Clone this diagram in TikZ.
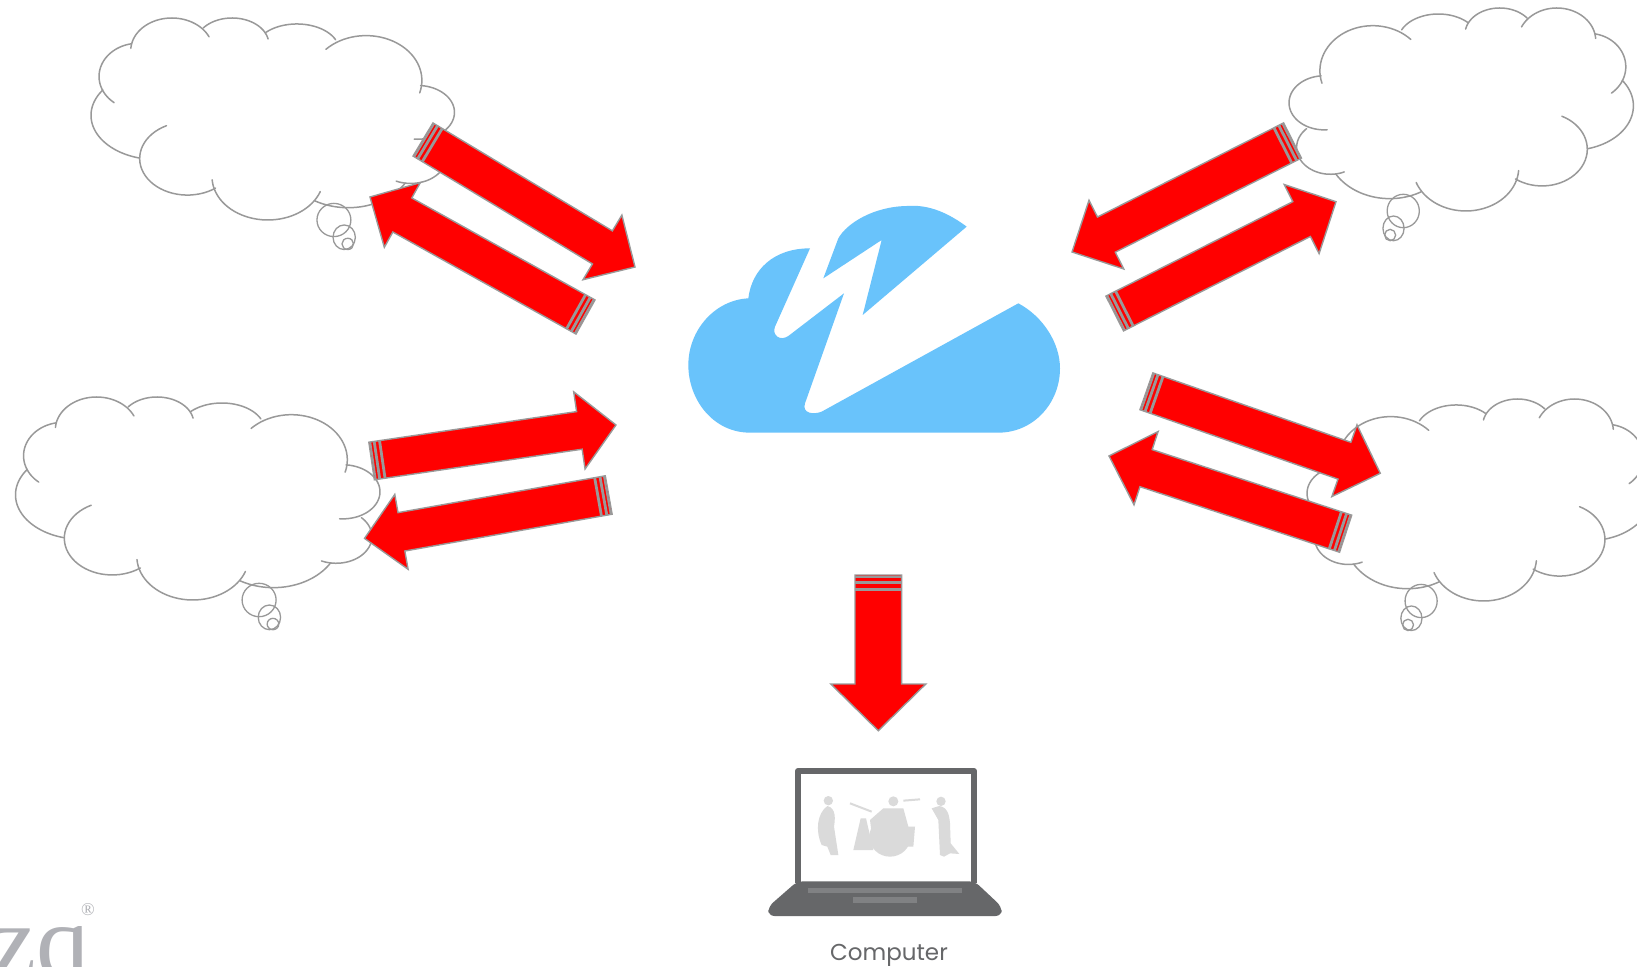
\documentclass[tikz,border=0pt]{standalone}
\usepackage{fontspec}
\setmainfont{Liberation Serif}
\newfontfamily\labelfont{Poppins}
\definecolor{edgegray}{HTML}{999999}
\definecolor{logoblue}{HTML}{69C3FB}
\definecolor{lapgray}{HTML}{666769}
\definecolor{keygray}{HTML}{808183}
\definecolor{bandgray}{HTML}{DADADA}
\definecolor{brandgray}{HTML}{B0B1B6}
\tikzset{
  lobe/.style={draw=edgegray,line width=0.75pt,line cap=round,line join=round},
  puff/.style={draw=edgegray,line width=0.65pt},
  arrowbody/.style={fill=red,draw=edgegray,line width=0.7pt,line join=miter},
  band/.style={draw=edgegray,line cap=butt}
}
% centre x, centre y, x radius, y radius, first angle, last angle
\newcommand{\lobearc}[6]{\draw[lobe] plot[domain=#5:#6,samples=36,variable=\t] ({#1+#3*cos(\t)},{#2+#4*sin(\t)});}
\newcommand{\cloudoutline}{%
  \begin{scope}[shift={(-204,-52)}]
  \lobearc{310}{228}{88}{100}{128}{260}
  \lobearc{385}{150}{92}{98}{184}{335}
  \lobearc{520}{130}{82}{78}{218}{349}
  \lobearc{665}{150}{95}{80}{222}{336}
  \lobearc{820}{240}{125}{135}{224}{376}
  \lobearc{935}{336}{83}{81}{-85}{95}
  \lobearc{920}{470}{80}{80}{-45}{114}
  \lobearc{780}{470}{149}{153}{31}{120}
  \lobearc{600}{530}{125}{130}{20}{176}
  \lobearc{420}{475}{107}{110}{54}{244}
  \lobearc{350}{345}{146}{133}{105}{215}
  \draw[puff] (748,660) circle[x radius=38,y radius=50];
  \draw[puff] (771,712) circle[x radius=25,y radius=37];
  \draw[puff] (779,732) circle[x radius=13,y radius=17];
  \end{scope}}
\newcommand{\blockarrow}[8]{%
  \pgfmathsetmacro\arlen{veclen(#3-#1,#4-#2)}%
  \pgfmathsetmacro\arang{atan2(#2-#4,#3-#1)}%
  \pgfmathsetmacro\arneck{\arlen-#7}%
  \pgfmathsetmacro\sta{0.12*#8}%
  \pgfmathsetmacro\stb{0.45*#8}%
  \pgfmathsetmacro\stc{0.9*#8}%
  \begin{scope}[shift={(#1,#2)},rotate=\arang]
    \draw[arrowbody] (0,-#5)--(\arneck,-#5)--(\arneck,-#6)--(\arlen,0)--(\arneck,#6)--(\arneck,#5)--(0,#5)--cycle;
    \draw[band,line width=0.9pt] (\sta,-#5)--(\sta,#5);
    \draw[band,line width=1.4pt] (\stb,-#5)--(\stb,#5);
    \draw[band,line width=1.4pt] (\stc,-#5)--(\stc,#5);
  \end{scope}}
\begin{document}
\begin{tikzpicture}[x=0.5pt,y=-0.5pt]
\useasboundingbox (0,0) rectangle (1637,967);
\clip (0,0) rectangle (1637,967);
\fill[white] (0,0) rectangle (1637,967);
% thought clouds
\begin{scope}[shift={(91,18)},xscale=363.5/814,yscale=202/608]\cloudoutline\end{scope}
\begin{scope}[shift={(15.5,397)},xscale=364.5/814,yscale=203/608]\cloudoutline\end{scope}
\begin{scope}[shift={(1633.4,8)},xscale=-344.4/814,yscale=203/608]\cloudoutline\end{scope}
\begin{scope}[shift={(1651,399)},xscale=-344/814,yscale=202/608]\cloudoutline\end{scope}
% central logo
\begin{scope}[shift={(640,180)},scale=1/3]
  \fill[logoblue] (330,758) .. controls (220,758) and (145,660) .. (145,555)
    .. controls (145,450) and (225,360) .. (325,355)
    .. controls (335,270) and (400,205) .. (510,205)
    -- (405,440) .. controls (395,465) and (420,485) .. (445,468)
    -- (612,340) -- (495,670) .. controls (485,700) and (520,705) .. (545,695)
    -- (1135,370) .. controls (1210,410) and (1260,490) .. (1260,565)
    .. controls (1260,670) and (1180,758) .. (1075,758) -- cycle;
  \fill[logoblue] (980,140) .. controls (900,80) and (840,75) .. (800,78)
    .. controls (700,80) and (620,130) .. (595,175)
    -- (550,295) -- (725,180) -- (668,405) -- cycle;
\end{scope}
% block arrows
\blockarrow{423}{139.5}{635}{267}{19.3}{37.7}{38}{12}
\blockarrow{585.5}{317}{370}{197}{19.5}{37}{37}{12}
\blockarrow{371.6}{461}{616}{425}{19}{39}{37}{12}
\blockarrow{608.7}{495}{364.5}{538.4}{19.5}{38}{37.5}{12}
\blockarrow{1292.5}{140.5}{1072}{252}{19.7}{38.5}{38.5}{12}
\blockarrow{1114.7}{313.5}{1336}{201.7}{19.5}{38.7}{38.5}{12}
\blockarrow{1146.4}{391.3}{1380.3}{473.3}{19.5}{38}{38}{12}
\blockarrow{1345.6}{533.7}{1109}{456}{19.5}{38.6}{39}{12}
\blockarrow{878.3}{575}{878.3}{730.7}{23.3}{47.5}{46.7}{16}
% laptop
\begin{scope}[shift={(740,560)},scale=1/3]
  \draw[lapgray,line width=3pt,line join=round] (174,968) -- (174,633) -- (702,633) -- (702,968);
  \fill[lapgray,rounded corners=3pt] (172,964) -- (704,964) -- (785,1040) -- (785,1068) -- (85,1068) -- (85,1040) -- cycle;
  \fill[keygray] (205,984) rectangle (665,998);
  \fill[keygray] (340,1012) rectangle (530,1028);
  % band silhouettes
  \fill[bandgray] (265,722) circle[radius=14];
  \fill[bandgray] (262,738) .. controls (290,745) and (285,780) .. (282,800)
     -- (295,885) -- (272,885) -- (262,860) -- (245,855)
     .. controls (225,810) and (232,760) .. (262,738) -- cycle;
  \fill[bandgray] (460,724) circle[radius=15];
  \fill[bandgray] (450,830) circle[x radius=62,y radius=60];
  \fill[bandgray] (430,745) -- (490,745) -- (505,800) -- (525,800) -- (520,860) -- (400,860) -- (390,780) -- cycle;
  \fill[bandgray] (340,870) -- (362,775) -- (378,775) -- (400,870) -- cycle;
  \draw[bandgray,line width=1pt] (490,722) -- (540,718);
  \draw[bandgray,line width=1pt] (330,730) -- (395,755);
  \fill[bandgray] (603,724) circle[radius=14];
  \fill[bandgray] (598,738) .. controls (625,742) and (628,770) .. (630,790)
     -- (632,850) -- (658,882) -- (630,880) -- (612,890) -- (600,885)
     -- (595,780) -- (575,745) -- cycle;
\end{scope}
\node[inner sep=0pt,font=\labelfont\fontsize{11.5}{13}\selectfont,text=lapgray] (computerlabel) at (889,955) {Computer};
% brand mark
\node[anchor=base west,inner sep=0pt,font=\fontsize{53}{56}\selectfont,text=brandgray] (brandmark) at (-11,977) {zq};
\node[inner sep=0pt,font=\fontsize{9}{10}\selectfont,text=brandgray] (brandreg) at (88,910) {®};
\end{tikzpicture}
\end{document}
